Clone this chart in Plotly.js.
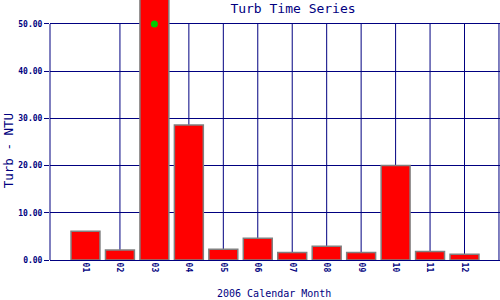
<!DOCTYPE html>
<html>
<head>
<meta charset="utf-8">
<script src="https://cdn.plot.ly/plotly-3.0.1.min.js"></script>
<style>html,body{margin:0;padding:0;background:#fff;}#chart{width:500px;height:300px;}</style>
</head>
<body>
<div id="chart"></div>
<script>
var months = ["01","02","03","04","05","06","07","08","09","10","11","12"];
var turbValues = [6.1, 2.1, 60.0, 28.6, 2.3, 4.6, 1.6, 2.9, 1.6, 20.0, 1.8, 1.2];
var markerMonths = ["03"];
var markerValues = [50.0];
var yTickVals = [0, 10, 20, 30, 40, 50];

var navy = "#000080";
var mono = "DejaVu Sans Mono, monospace";

var shapes = months.map(function (m) {
  return {type: "line", layer: "below", xref: "x", yref: "y", x0: m, x1: m, y0: 0, y1: 50,
          line: {color: navy, width: 1}};
});
shapes.push({type: "line", layer: "below", xref: "paper", yref: "y", x0: 0, x1: 0, y0: 0, y1: 50,
             line: {color: navy, width: 1}});

var data = [
  {type: "bar", x: months, y: turbValues, width: 0.84,
   marker: {color: "#FF0000", line: {color: "#808080", width: 1.5}},
   hoverinfo: "none"},
  {type: "scatter", mode: "markers", x: markerMonths, y: markerValues,
   marker: {color: "#00CC00", size: 7, symbol: "circle"}, hoverinfo: "none"}
];

var layout = {
  width: 500, height: 300,
  margin: {l: 50, r: 0, t: 0, b: 40},
  paper_bgcolor: "#fff", plot_bgcolor: "#fff",
  showlegend: false, bargap: 0,
  title: {text: "Turb Time Series", font: {family: mono, size: 13, color: navy},
          x: 0.54, xanchor: "center", xref: "paper", y: 0.973, yanchor: "middle", yref: "container"},
  xaxis: {type: "category", range: [-1.03, 12.03], showgrid: false, zeroline: false,
          showline: true, linecolor: navy, linewidth: 1, ticks: "", tickangle: 90,
          tickfont: {family: mono, size: 8, color: navy, weight: "bold"}, fixedrange: true},
  yaxis: {range: [0, 55.08], tickvals: yTickVals, tickformat: ".2f",
          showgrid: true, gridcolor: navy, gridwidth: 1, zeroline: false, showline: false,
          ticks: "outside", ticklen: 5, tickcolor: navy, tickwidth: 1,
          tickfont: {family: mono, size: 8, color: navy, weight: "bold"}, fixedrange: true},
  shapes: shapes,
  annotations: [
    {text: "2006 Calendar Month", xref: "paper", yref: "paper", x: 0.497, y: -0.127,
     xanchor: "center", yanchor: "middle", showarrow: false, font: {family: mono, size: 10, color: navy}},
    {text: "Turb - NTU", xref: "paper", yref: "paper", x: -0.093, y: 0.419, textangle: -90,
     xanchor: "center", yanchor: "middle", showarrow: false, font: {family: mono, size: 12.5, color: navy}}
  ]
};

Plotly.newPlot("chart", data, layout, {displayModeBar: false, staticPlot: true});
</script>
</body>
</html>
